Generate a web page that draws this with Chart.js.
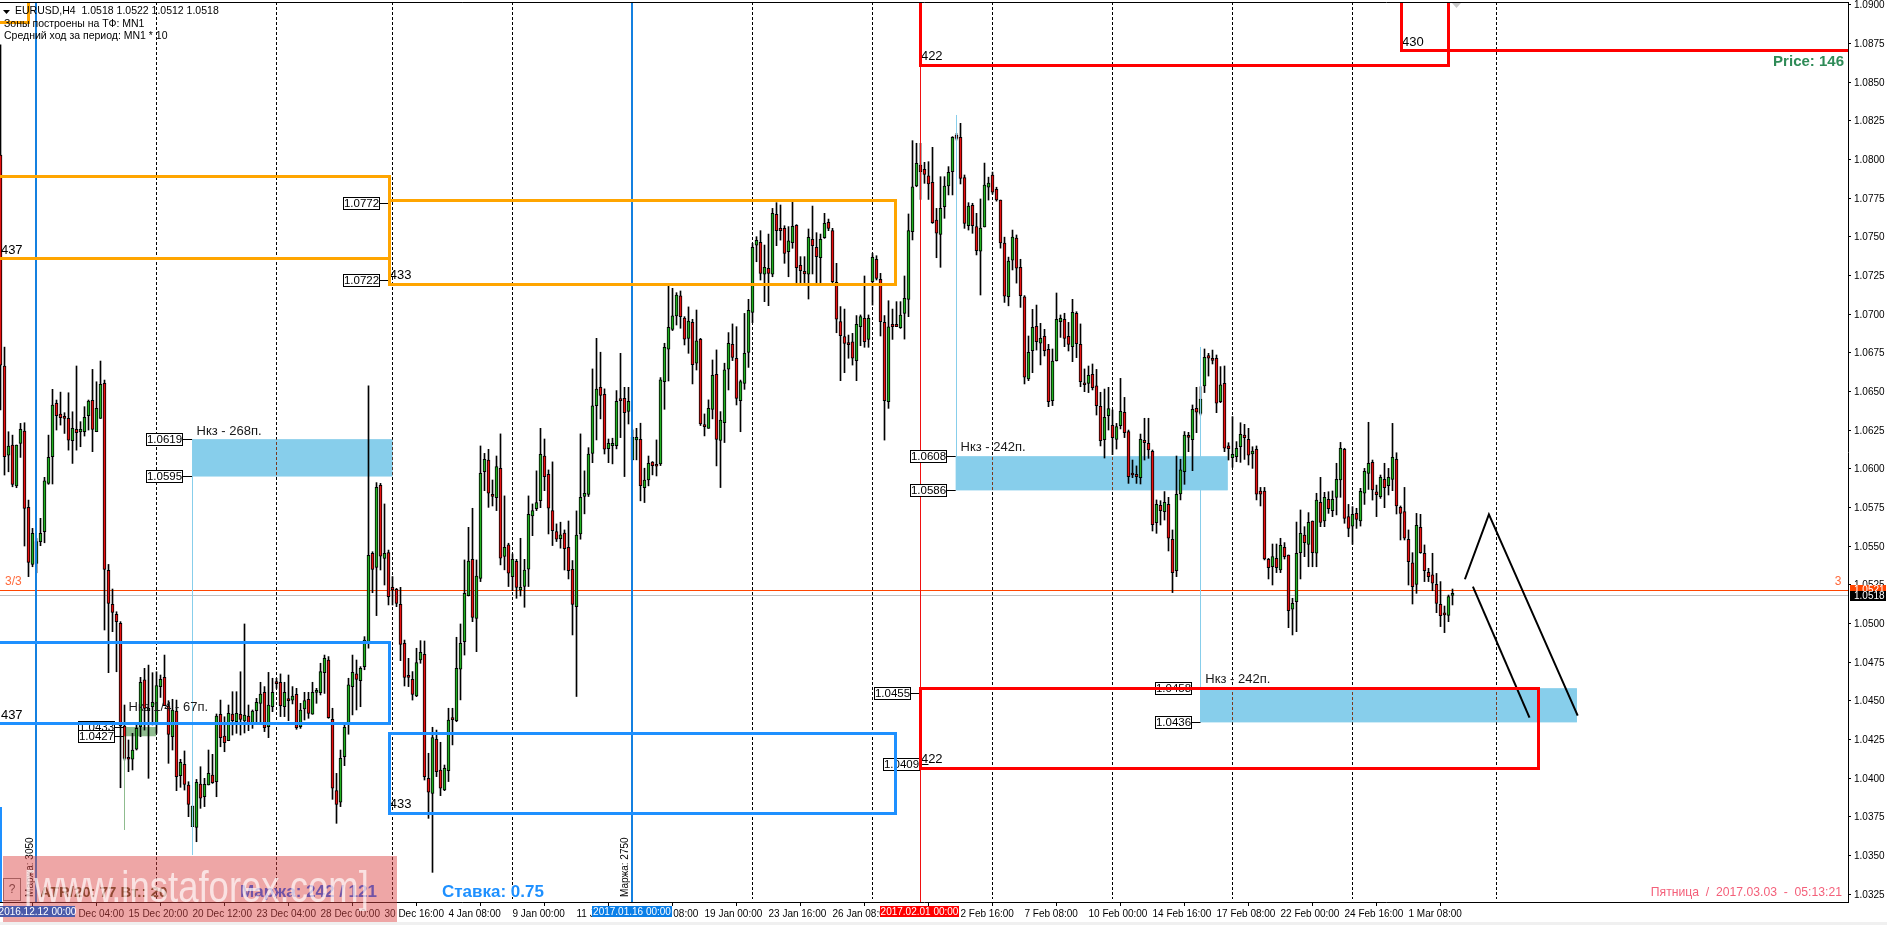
<!DOCTYPE html>
<html>
<head>
<meta charset="utf-8">
<title>EURUSD,H4</title>
<script src="https://cdn.jsdelivr.net/npm/chart.js@4"></script>
<style>
  html, body { margin: 0; padding: 0; background: #fff; overflow: hidden; }
  canvas { display: block; }
</style>
</head>
<body>
<canvas id="grafico" width="1887" height="925"></canvas>
<script>
// ======= CANDLES (EURUSD H4, one value per bar) =======
const opens = [
  1.08028,1.06664,1.06088,1.06153,1.05888,1.06164,1.06243,1.05750,1.05381,1.05388,
  1.05528,1.05592,1.05905,1.06077,1.06422,1.06353,1.06332,1.06325,1.06181,1.06254,
  1.06237,1.06239,1.06342,1.06442,1.06239,1.06325,1.06552,1.05343,1.05123,1.05058,
  1.05000,1.04336,1.04127,1.04121,1.04187,1.04332,1.04634,1.04435,1.04461,1.04353,
  1.04590,1.04651,1.04465,1.04267,1.04433,1.04015,1.04088,1.03955,1.03685,1.03681,
  1.03961,1.03879,1.03955,1.04019,1.03976,1.04412,1.04271,1.04241,1.04414,1.04364,
  1.04412,1.04369,1.04401,1.04358,1.04436,1.04483,1.04554,1.04332,1.04461,1.04612,
  1.04619,1.04461,1.04509,1.04504,1.04541,1.04332,1.04446,1.04509,1.04412,1.04554,
  1.04552,1.04681,1.04763,1.04380,1.03918,1.03843,1.04138,1.04354,1.04591,1.04673,
  1.04630,1.04720,1.04882,1.05453,1.05362,1.05892,1.05420,1.05457,1.05233,1.05220,
  1.05123,1.04871,1.04664,1.04638,1.04530,1.04763,1.04800,1.03998,1.03901,1.04250,
  1.04052,1.03923,1.04048,1.04382,1.04371,1.04703,1.04882,1.05179,1.05414,1.05032,
  1.05291,1.05981,1.06056,1.05835,1.05813,1.06003,1.05432,1.05507,1.05302,1.05401,
  1.05216,1.05238,1.05350,1.05695,1.05742,1.05794,1.06082,1.05964,1.05729,1.05593,
  1.05548,1.05583,1.05492,1.05350,1.05108,1.05578,1.05820,1.05833,1.06098,1.06408,
  1.06526,1.06481,1.06130,1.06149,1.06149,1.06443,1.06455,1.06371,1.06057,1.06186,
  1.06190,1.05878,1.05927,1.06042,1.06020,1.06031,1.06563,1.06772,1.06901,1.06988,
  1.07117,1.06973,1.06843,1.06947,1.06682,1.06837,1.06281,1.06261,1.06384,1.06610,
  1.06182,1.06298,1.06643,1.06804,1.06714,1.06440,1.06552,1.06752,1.07011,1.07446,
  1.07463,1.07257,1.07295,1.07257,1.07644,1.07554,1.07554,1.07403,1.07461,1.07573,
  1.07315,1.07276,1.07257,1.07483,1.07431,1.07364,1.07494,1.07593,1.07539,1.07205,
  1.06951,1.06854,1.06810,1.06821,1.06698,1.06918,1.06972,1.06836,1.07209,1.07354,
  1.07224,1.06946,1.06433,1.06933,1.06933,1.06912,1.07004,1.07095,1.07532,1.07828,
  1.07963,1.07935,1.07894,1.07851,1.07608,1.07515,1.07694,1.07828,1.07920,1.08157,
  1.08142,1.07882,1.07571,1.07703,1.07565,1.07407,1.07563,1.07821,1.07898,1.07807,
  1.07737,1.07459,1.07112,1.07349,1.07491,1.07302,1.07112,1.06580,1.06763,1.06921,
  1.06811,1.06856,1.06772,1.06440,1.06699,1.06951,1.06966,1.06856,1.06789,1.07005,
  1.06804,1.06552,1.06552,1.06610,1.06535,1.06403,1.06188,1.06343,1.06280,1.06190,
  1.06278,1.06365,1.06240,1.05970,1.05964,1.05942,1.06184,1.06164,1.06112,1.05651,
  1.05763,1.05722,1.05770,1.05543,1.05341,1.05837,1.05981,1.06205,1.06188,1.06390,
  1.06357,1.06535,1.06731,1.06703,1.06714,1.06433,1.06552,1.06147,1.06071,1.06078,
  1.06142,1.06218,1.06190,1.06095,1.06125,1.05856,1.05856,1.05414,1.05366,1.05420,
  1.05345,1.05491,1.05442,1.05091,1.05140,1.05457,1.05571,1.05511,1.05662,1.05453,
  1.05782,1.05662,1.05802,1.05729,1.05815,1.05927,1.06125,1.05690,1.05629,1.05711,
  1.05662,1.05841,1.05970,1.06041,1.05851,1.05819,1.05931,1.05890,1.05931,1.06060,
  1.05750,1.05722,1.05543,1.05392,1.05252,1.05621,1.05453,1.05330,1.05313,1.05252,
  1.05123,1.05059,1.05052,1.05181
];
const highs = [
  1.08740,1.06786,1.06239,1.06217,1.06153,1.06293,1.06297,1.05797,1.05614,1.05549,
  1.05679,1.05944,1.06217,1.06513,1.06444,1.06495,1.06362,1.06491,1.06368,1.06664,
  1.06304,1.06401,1.06444,1.06642,1.06562,1.06696,1.06573,1.05381,1.05222,1.05075,
  1.05011,1.04472,1.04246,1.04289,1.04353,1.04651,1.04709,1.04730,1.04681,1.04687,
  1.04666,1.04795,1.04500,1.04509,1.04504,1.04121,1.04175,1.03976,1.03819,1.03991,
  1.04073,1.03998,1.04181,1.04153,1.04414,1.04504,1.04396,1.04472,1.04558,1.04558,
  1.04687,1.04996,1.04472,1.04440,1.04515,1.04619,1.04591,1.04683,1.04645,1.04645,
  1.04673,1.04619,1.04666,1.04591,1.04580,1.04483,1.04554,1.04554,1.04619,1.04580,
  1.04742,1.04795,1.04785,1.04451,1.04030,1.04181,1.04343,1.04645,1.04795,1.04763,
  1.04720,1.04914,1.06535,1.05463,1.05910,1.05905,1.05772,1.05474,1.05302,1.05226,
  1.05233,1.04892,1.04774,1.04688,1.04839,1.04888,1.04886,1.04160,1.04328,1.04310,
  1.04231,1.04084,1.04451,1.04451,1.04910,1.04996,1.05410,1.05621,1.05744,1.05410,
  1.06147,1.06099,1.06125,1.05927,1.06082,1.06225,1.05824,1.05518,1.05449,1.05414,
  1.05550,1.05414,1.05824,1.05772,1.05986,1.06261,1.06192,1.05992,1.06044,1.05643,
  1.05654,1.05604,1.05662,1.05406,1.05727,1.06225,1.05986,1.06136,1.06645,1.06843,
  1.06753,1.06516,1.06192,1.06197,1.06505,1.06746,1.06526,1.06526,1.06251,1.06261,
  1.06294,1.06003,1.06082,1.06046,1.06186,1.06589,1.06811,1.07182,1.07166,1.07138,
  1.07149,1.06983,1.07046,1.06966,1.07026,1.06843,1.06354,1.06445,1.06703,1.06768,
  1.06369,1.06682,1.06880,1.06936,1.06918,1.06573,1.07004,1.07095,1.07457,1.07500,
  1.07539,1.07446,1.07517,1.07683,1.07720,1.07705,1.07571,1.07565,1.07726,1.07578,
  1.07371,1.07371,1.07550,1.07698,1.07526,1.07517,1.07651,1.07614,1.07554,1.07328,
  1.07048,1.07032,1.06864,1.06875,1.06990,1.06994,1.07246,1.06994,1.07392,1.07377,
  1.07263,1.06990,1.07086,1.07032,1.07080,1.07080,1.07246,1.07647,1.08121,1.08104,
  1.08104,1.07981,1.07985,1.08078,1.07683,1.07888,1.07888,1.07953,1.08147,1.08168,
  1.08233,1.07899,1.07720,1.07716,1.07651,1.07744,1.07976,1.07885,1.07918,1.07820,
  1.07737,1.07497,1.07368,1.07543,1.07511,1.07354,1.07119,1.06858,1.07030,1.07058,
  1.06940,1.06901,1.06804,1.06774,1.07136,1.06994,1.07005,1.06946,1.07095,1.07015,
  1.06936,1.06645,1.06664,1.06677,1.06642,1.06494,1.06515,1.06526,1.06380,1.06293,
  1.06584,1.06461,1.06250,1.06056,1.06018,1.06224,1.06326,1.06326,1.06121,1.05798,
  1.05793,1.05852,1.05815,1.05604,1.06082,1.06061,1.06240,1.06235,1.06412,1.06526,
  1.06530,1.06774,1.06746,1.06767,1.06735,1.06660,1.06664,1.06168,1.06336,1.06175,
  1.06297,1.06287,1.06261,1.06142,1.06147,1.05879,1.05879,1.05420,1.05513,1.05513,
  1.05550,1.05522,1.05442,1.05162,1.05655,1.05733,1.05625,1.05716,1.05662,1.05841,
  1.05944,1.05847,1.05851,1.05856,1.06035,1.06170,1.06132,1.05769,1.05754,1.05744,
  1.05873,1.06002,1.06300,1.06056,1.05894,1.05959,1.06035,1.06002,1.06293,1.06103,
  1.05759,1.05879,1.05604,1.05457,1.05711,1.05705,1.05507,1.05356,1.05453,1.05323,
  1.05270,1.05112,1.05183,1.05222
];
const lows = [
  1.06380,1.05959,1.05980,1.05883,1.05877,1.06073,1.05500,1.05302,1.05366,1.05327,
  1.05502,1.05521,1.05899,1.05901,1.06250,1.06282,1.06228,1.06120,1.06034,1.06120,
  1.06142,1.06211,1.06250,1.06110,1.06239,1.06325,1.04957,1.04681,1.04946,1.04687,
  1.03937,1.04116,1.04041,1.04052,1.04181,1.04267,1.04310,1.03998,1.04343,1.04289,
  1.04521,1.04468,1.04095,1.04181,1.03918,1.03940,1.03922,1.03750,1.03685,1.03588,
  1.03804,1.03815,1.03955,1.03965,1.03879,1.04202,1.04170,1.04241,1.04278,1.04289,
  1.04278,1.04291,1.04306,1.04321,1.04358,1.04358,1.04300,1.04261,1.04429,1.04580,
  1.04397,1.04397,1.04371,1.04479,1.04315,1.04321,1.04375,1.04386,1.04412,1.04483,
  1.04537,1.04547,1.04386,1.03862,1.03707,1.03815,1.04080,1.04283,1.04408,1.04440,
  1.04461,1.04700,1.04839,1.05198,1.05050,1.05345,1.05248,1.05119,1.05119,1.05108,
  1.04759,1.04595,1.04591,1.04504,1.04526,1.04742,1.03987,1.03739,1.03390,1.04009,
  1.03886,1.03918,1.03977,1.04214,1.04364,1.04505,1.04795,1.05177,1.05011,1.04817,
  1.05270,1.05858,1.05750,1.05759,1.05729,1.05378,1.05346,1.05238,1.05212,1.05162,
  1.05177,1.05104,1.05238,1.05567,1.05729,1.05748,1.05858,1.05578,1.05503,1.05529,
  1.05486,1.05345,1.05287,1.04925,1.04527,1.05544,1.05708,1.05820,1.06039,1.06186,
  1.06322,1.06095,1.06039,1.06031,1.06128,1.06201,1.05949,1.06289,1.06057,1.06057,
  1.05792,1.05781,1.05889,1.05960,1.05953,1.06020,1.06384,1.06567,1.06893,1.06929,
  1.06908,1.06800,1.06746,1.06548,1.06638,1.06279,1.06212,1.06261,1.06322,1.06018,
  1.05878,1.06169,1.06509,1.06699,1.06412,1.06239,1.06513,1.06655,1.06944,1.07338,
  1.07220,1.07080,1.07054,1.07241,1.07442,1.07478,1.07328,1.07241,1.07425,1.07203,
  1.07203,1.07203,1.07097,1.07259,1.07203,1.07203,1.07489,1.07539,1.07198,1.06879,
  1.06569,1.06621,1.06714,1.06670,1.06569,1.06795,1.06785,1.06785,1.07058,1.07220,
  1.06858,1.06185,1.06390,1.06836,1.06918,1.06907,1.06838,1.06983,1.07479,1.07823,
  1.07741,1.07845,1.07741,1.07586,1.07364,1.07302,1.07619,1.07770,1.07770,1.08125,
  1.07841,1.07554,1.07543,1.07522,1.07382,1.07123,1.07563,1.07737,1.07775,1.07730,
  1.07426,1.07075,1.07053,1.07285,1.07200,1.07043,1.06548,1.06569,1.06621,1.06767,
  1.06671,1.06729,1.06401,1.06408,1.06696,1.06849,1.06789,1.06761,1.06692,1.06718,
  1.06530,1.06498,1.06492,1.06509,1.06347,1.06147,1.06069,1.06250,1.06091,1.06127,
  1.06257,1.06201,1.05905,1.05942,1.05905,1.05901,1.06056,1.06067,1.05597,1.05582,
  1.05636,1.05668,1.05468,1.05199,1.05302,1.05798,1.05899,1.06110,1.05987,1.06233,
  1.06347,1.06492,1.06599,1.06677,1.06362,1.06427,1.06110,1.06056,1.06009,1.06045,
  1.06041,1.06060,1.06024,1.06002,1.05798,1.05759,1.05410,1.05287,1.05248,1.05328,
  1.05328,1.05416,1.04972,1.04925,1.04946,1.05287,1.05431,1.05366,1.05366,1.05366,
  1.05625,1.05625,1.05711,1.05690,1.05701,1.05815,1.05647,1.05560,1.05511,1.05614,
  1.05629,1.05769,1.05866,1.05797,1.05690,1.05808,1.05748,1.05830,1.05858,1.05707,
  1.05539,1.05539,1.05248,1.05125,1.05194,1.05453,1.05270,1.05270,1.05211,1.05069,
  1.04979,1.04940,1.05011,1.05119
];
const closes = [
  1.06670,1.06077,1.06146,1.05899,1.06153,1.06254,1.05743,1.05394,1.05582,1.05528,
  1.05582,1.05922,1.06073,1.06411,1.06342,1.06330,1.06325,1.06185,1.06261,1.06233,
  1.06254,1.06332,1.06437,1.06254,1.06390,1.06545,1.05349,1.05129,1.05071,1.05011,
  1.04336,1.04127,1.04121,1.04181,1.04321,1.04618,1.04450,1.04450,1.04489,1.04597,
  1.04638,1.04468,1.04282,1.04440,1.04009,1.04101,1.03959,1.03830,1.03819,1.03972,
  1.03869,1.03959,1.04030,1.03970,1.04401,1.04261,1.04228,1.04418,1.04371,1.04418,
  1.04379,1.04407,1.04358,1.04433,1.04489,1.04543,1.04326,1.04472,1.04554,1.04610,
  1.04468,1.04554,1.04500,1.04530,1.04326,1.04440,1.04500,1.04418,1.04554,1.04558,
  1.04688,1.04774,1.04390,1.03934,1.03830,1.04127,1.04328,1.04602,1.04683,1.04638,
  1.04709,1.04892,1.05440,1.05349,1.05879,1.05435,1.05453,1.05173,1.05216,1.05129,
  1.04864,1.04651,1.04651,1.04541,1.04746,1.04813,1.04009,1.03908,1.04261,1.04041,
  1.03934,1.04063,1.04375,1.04378,1.04709,1.04871,1.05194,1.05403,1.05039,1.05306,
  1.05970,1.06060,1.05841,1.05820,1.06014,1.05421,1.05492,1.05324,1.05414,1.05233,
  1.05233,1.05345,1.05705,1.05729,1.05781,1.06093,1.05949,1.05744,1.05600,1.05544,
  1.05572,1.05483,1.05341,1.05123,1.05570,1.05815,1.05841,1.06095,1.06406,1.06514,
  1.06473,1.06126,1.06164,1.06164,1.06436,1.06440,1.06363,1.06436,1.06203,1.06203,
  1.05891,1.05927,1.06035,1.06020,1.06016,1.06574,1.06785,1.06914,1.06988,1.07123,
  1.06983,1.06837,1.06955,1.06673,1.06826,1.06289,1.06272,1.06391,1.06604,1.06190,
  1.06315,1.06639,1.06811,1.06720,1.06455,1.06563,1.06746,1.07024,1.07431,1.07476,
  1.07263,1.07302,1.07263,1.07651,1.07539,1.07539,1.07392,1.07474,1.07567,1.07300,
  1.07280,1.07259,1.07496,1.07442,1.07371,1.07483,1.07586,1.07554,1.07209,1.06966,
  1.06860,1.06810,1.06802,1.06714,1.06933,1.06983,1.06821,1.06972,1.07367,1.07231,
  1.06951,1.06440,1.06918,1.06918,1.06918,1.06994,1.07101,1.07539,1.07823,1.07974,
  1.07920,1.07903,1.07841,1.07591,1.07522,1.07683,1.07828,1.07916,1.08142,1.08136,
  1.07877,1.07586,1.07698,1.07571,1.07410,1.07556,1.07834,1.07847,1.07788,1.07737,
  1.07459,1.07116,1.07343,1.07498,1.07297,1.07119,1.06591,1.06752,1.06914,1.06821,
  1.06843,1.06763,1.06433,1.06696,1.06966,1.06972,1.06843,1.06804,1.07011,1.06808,
  1.06563,1.06543,1.06604,1.06524,1.06408,1.06181,1.06332,1.06388,1.06201,1.06272,
  1.06371,1.06233,1.05949,1.05959,1.05949,1.06190,1.06168,1.06121,1.05638,1.05770,
  1.05729,1.05783,1.05550,1.05328,1.05834,1.05992,1.06218,1.06202,1.06384,1.06365,
  1.06450,1.06720,1.06714,1.06700,1.06423,1.06543,1.06132,1.06129,1.06093,1.06132,
  1.06222,1.06200,1.06088,1.06114,1.05836,1.05836,1.05416,1.05360,1.05431,1.05360,
  1.05504,1.05431,1.05082,1.05129,1.05453,1.05582,1.05522,1.05653,1.05457,1.05797,
  1.05653,1.05815,1.05741,1.05802,1.05931,1.06132,1.05679,1.05614,1.05705,1.05672,
  1.05854,1.05983,1.06035,1.05862,1.05832,1.05944,1.05877,1.05944,1.06073,1.05759,
  1.05711,1.05550,1.05399,1.05237,1.05634,1.05457,1.05341,1.05302,1.05259,1.05129,
  1.05050,1.05055,1.05173,1.05181
];

// ======= AXES =======
const yTicks = [1.0325,1.035,1.0375,1.04,1.0425,1.045,1.0475,1.05,1.0525,1.055,1.0575,1.06,
  1.0625,1.065,1.0675,1.07,1.0725,1.075,1.0775,1.08,1.0825,1.085,1.0875,1.09];
const xTickBars = [0,16,32,48,64,80,96,112,128,144,160,176,192,208,224,240,256,272,288,304,320,336,352];
const xTickLabels = ["12 Dec 2016","13 Dec 04:00","15 Dec 20:00","20 Dec 12:00","23 Dec 04:00","28 Dec 00:00",
  "30 Dec 16:00","4 Jan 08:00","9 Jan 00:00","11 Jan 16:00","16 Jan 08:00","19 Jan 00:00","23 Jan 16:00",
  "26 Jan 08:00","31 Jan 00:00","2 Feb 16:00","7 Feb 08:00","10 Feb 00:00","14 Feb 16:00","17 Feb 08:00",
  "22 Feb 00:00","24 Feb 16:00","1 Mar 08:00"];
const separatorBars = [39,69,98,128,158,188,218,248,278,308,338,374];

// ======= ZONES AND BOXES: [first bar, last bar, upper price, lower price] =======
const skyZones = [[47.9,98,1.0619,1.0595],[238.8,306.8,1.0608,1.0586],[300,394.1,1.0458,1.0436]];
const greenZones = [[30.9,38.9,1.0433,1.0427]];
const orangeBoxes = [[-5,97.25,1.07892,1.07356],[97.25,223.75,1.07735,1.07192],[-5,7,1.0915,1.08888]];
const blueBoxes = [[-5,97.25,1.04875,1.04353],[97.25,223.75,1.04289,1.03771],[-5,0,1.03806,1.03]];
const redBoxes = [[230,362,1.0915,1.08608],[350.25,470,1.0915,1.08705],[230,384.5,1.0458,1.04063]];

// thin lines hanging from the zones: [bar, price from, price to]
const skyStems = [[48,1.0595,1.03502],[239,1.0608,1.08287],[300,1.0436,1.06787]];
const greenStems = [[31,1.0427,1.03664]];

// boxed prices: value and the bar the leader line runs to
const tagPrices = [1.0619,1.0595,1.0772,1.0722,1.0608,1.0586,1.0455,1.0409,1.0458,1.0436,1.0433,1.0427];
const tagBars = [47.9,47.9,97,97,238.8,238.8,229.9,232,300,300,30.9,30.9];

// box sizes written next to the boxes
const sizeTexts = ["437","433","437","433","422","430","422"];
const sizeBars = [0.1,97.3,0.1,97.3,230.1,350.4,230.1];
const sizePrices = [1.0742,1.07259,1.04414,1.03838,1.08675,1.08765,1.04129];

const zoneTexts = ["Нкз - 268п.","Нкз 1/4 - 67п.","Нкз - 242п.","Нкз - 242п."];
const zoneTextBars = [49,32,240,301.2];
const zoneTextPrices = [1.06247,1.04463,1.06147,1.04646];

// forecast lines
const trendABars = [366.1,372.1,394.3];
const trendAPrices = [1.05285,1.05705,1.04403];
const trendBBars = [368.1,382.25];
const trendBPrices = [1.05237,1.0439];

const levelUpper = 1.05214;
const levelLast = 1.0518;

// ======= HELPERS =======
const fuente = "'Liberation Sans', Arial, sans-serif";
const barras = opens.map((_, i) => i);
const snap = v => Math.floor(v) + 0.5;

function texto(ctx, str, x, y, font, color, align) {
  ctx.font = font;
  ctx.fillStyle = color;
  ctx.textAlign = align || "left";
  ctx.textBaseline = "middle";
  ctx.fillText(str, x, y + 1);
}

function lineaV(ctx, x, y0, y1, color, width) {
  ctx.strokeStyle = color;
  ctx.lineWidth = width;
  ctx.beginPath();
  ctx.moveTo(x, y0);
  ctx.lineTo(x, y1);
  ctx.stroke();
}

function lineaH(ctx, x0, x1, y, color, width) {
  ctx.strokeStyle = color;
  ctx.lineWidth = width;
  ctx.beginPath();
  ctx.moveTo(x0, y);
  ctx.lineTo(x1, y);
  ctx.stroke();
}

// ======= PLUGIN: everything the terminal draws around the candles =======
const dibujos = {
  id: "dibujos",
  beforeDraw(chart) {
    const ctx = chart.ctx;
    ctx.save();
    ctx.fillStyle = "#ffffff";
    ctx.fillRect(0, 0, 1887, 925);
    ctx.fillStyle = "#f0f0f0";
    ctx.fillRect(0, 922, 1887, 3);
    ctx.restore();
  },
  beforeDatasetsDraw(chart) {
    const { ctx, chartArea: a, scales: { x, y } } = chart;
    ctx.save();
    ctx.beginPath();
    ctx.rect(a.left, a.top, a.right - a.left, a.bottom - a.top);
    ctx.clip();

    const zonas = [[skyZones, "#87ceeb"], [greenZones, "#8fbc8f"]];
    zonas.forEach(([lista, color]) => {
      ctx.fillStyle = color;
      lista.forEach(z => {
        const x0 = x.getPixelForValue(z[0]), x1 = x.getPixelForValue(z[1]);
        const y0 = y.getPixelForValue(z[2]), y1 = y.getPixelForValue(z[3]);
        ctx.fillRect(x0, y0, x1 - x0, y1 - y0);
      });
    });

    // separators turn dark brown where they cross a zone
    ctx.setLineDash([3, 2]);
    separatorBars.forEach(b => lineaV(ctx, x.getPixelForValue(b), a.top, 899, "#000000", 1));
    skyZones.forEach(z => {
      ctx.save();
      const x0 = x.getPixelForValue(z[0]), x1 = x.getPixelForValue(z[1]);
      const y0 = y.getPixelForValue(z[2]), y1 = y.getPixelForValue(z[3]);
      ctx.beginPath();
      ctx.rect(x0, y0, x1 - x0, y1 - y0);
      ctx.clip();
      ctx.fillStyle = "#87ceeb";
      ctx.fillRect(x0, y0, x1 - x0, y1 - y0);
      separatorBars.forEach(b => lineaV(ctx, x.getPixelForValue(b), a.top, 899, "#7a3a20", 1));
      ctx.restore();
    });
    ctx.setLineDash([]);

    lineaH(ctx, a.left, a.right, snap(y.getPixelForValue(levelLast)), "#c0c0c0", 1);
    lineaH(ctx, a.left, a.right, snap(y.getPixelForValue(levelUpper)), "#ff4500", 1);
    ctx.restore();
  },
  afterDatasetsDraw(chart) {
    const { ctx, chartArea: a, scales: { x, y } } = chart;
    ctx.save();
    ctx.beginPath();
    ctx.rect(a.left, a.top, a.right - a.left, a.bottom - a.top);
    ctx.clip();

    // stems and marked bars
    skyStems.forEach(s => {
      lineaV(ctx, x.getPixelForValue(s[0]), y.getPixelForValue(s[1]), y.getPixelForValue(s[2]), "#87ceeb", 1);
    });
    greenStems.forEach(s => {
      lineaV(ctx, x.getPixelForValue(s[0]), y.getPixelForValue(s[1]), y.getPixelForValue(s[2]), "#8fbc8f", 1);
    });
    lineaV(ctx, x.getPixelForValue(230), a.top, a.bottom, "#f01010", 1);
    lineaV(ctx, x.getPixelForValue(8.875), a.top, a.bottom, "#1480e0", 2);
    lineaV(ctx, x.getPixelForValue(157.875), a.top, a.bottom, "#1480e0", 2);

    // boxed prices
    tagPrices.forEach((p, i) => {
      const py = Math.round(y.getPixelForValue(p));
      const ax = x.getPixelForValue(tagBars[i]);
      const right = Math.round(ax) - 10;
      lineaH(ctx, right, ax, py + 0.5, "#000000", 1);
      ctx.fillStyle = "#ffffff";
      ctx.fillRect(right - 36, py - 5, 36, 11);
      ctx.strokeStyle = "#000000";
      ctx.lineWidth = 1;
      ctx.strokeRect(right - 35.5, py - 5.5, 36, 12);
      texto(ctx, p.toFixed(4), right - 17.5, py, "11.5px " + fuente, "#000000", "center");
    });

    zoneTexts.forEach((t, i) => {
      texto(ctx, t, x.getPixelForValue(zoneTextBars[i]), y.getPixelForValue(zoneTextPrices[i]), "13px " + fuente, "#1a1a1a");
    });
    sizeTexts.forEach((t, i) => {
      texto(ctx, t, x.getPixelForValue(sizeBars[i]), y.getPixelForValue(sizePrices[i]), "13px " + fuente, "#000000");
    });

    // open frames
    const marcos = [[orangeBoxes, "#ffa500"], [blueBoxes, "#1e90ff"], [redBoxes, "#ff0000"]];
    marcos.forEach(([lista, color]) => {
      ctx.strokeStyle = color;
      ctx.lineWidth = 3;
      ctx.lineJoin = "miter";
      lista.forEach(b => {
        const x0 = snap(x.getPixelForValue(b[0])), x1 = snap(x.getPixelForValue(b[1]));
        const y0 = snap(y.getPixelForValue(b[2])), y1 = snap(y.getPixelForValue(b[3]));
        ctx.strokeRect(x0, y0, x1 - x0, y1 - y0);
      });
    });

    texto(ctx, "3/3", 5, 581, "12px " + fuente, "#ff6a3c");
    texto(ctx, "3", 1838, 581, "12px " + fuente, "#ff6a3c", "center");
    texto(ctx, "Price: 146", 1844, 61, "bold 15px " + fuente, "#2e8b57", "right");
    texto(ctx, "Пятница  /  2017.03.03  -  05:13:21", 1842, 892, "12.2px " + fuente, "#f4607a", "right");
    texto(ctx, "Ставка: 0.75", 442, 891, "bold 17px " + fuente, "#1e90ff");
    ctx.restore();

    // shift marker
    ctx.fillStyle = "#c8c8c8";
    ctx.beginPath();
    ctx.moveTo(1452, 3);
    ctx.lineTo(1461, 3);
    ctx.lineTo(1456.5, 8);
    ctx.closePath();
    ctx.fill();
  },
  afterDraw(chart) {
    const { ctx, chartArea: a, scales: { y } } = chart;
    ctx.save();
    lineaH(ctx, 0, a.right + 0.5, a.top + 0.5, "#000000", 1);

    // price axis labels, one pixel lower than the library centres them
    yTicks.forEach(v => {
      texto(ctx, v.toFixed(4), 1854, y.getPixelForValue(v), "10px " + fuente, "#000000");
    });

    // header
    ctx.fillStyle = "#000000";
    ctx.beginPath();
    ctx.moveTo(3, 10);
    ctx.lineTo(10, 10);
    ctx.lineTo(6.5, 14);
    ctx.closePath();
    ctx.fill();
    texto(ctx, "EURUSD,H4  1.0518 1.0522 1.0512 1.0518", 15, 10, "10.5px " + fuente, "#000000");
    texto(ctx, "Зоны построены на ТФ: MN1", 4, 23, "10.5px " + fuente, "#000000");
    texto(ctx, "Средний ход за период: MN1 * 10", 4, 35, "10.5px " + fuente, "#000000");

    // price tags on the axis
    ctx.fillStyle = "#ff4500";
    ctx.fillRect(1850, 585, 36, 11);
    texto(ctx, "1.0521", 1854, 589, "10px " + fuente, "#ffffff");
    ctx.fillStyle = "#000000";
    ctx.fillRect(1850, 591, 36, 10);
    texto(ctx, "1.0518", 1854, 595, "10px " + fuente, "#ffffff");

    // vertical notes
    [[30, "Маржа: 3050"], [625, "Маржа: 2750"]].forEach(([px, t]) => {
      ctx.save();
      ctx.translate(px, 897);
      ctx.rotate(-Math.PI / 2);
      texto(ctx, t, 0, -1, "10px " + fuente, "#000000");
      ctx.restore();
    });

    // marked times on the axis
    [[592, 80, "#0a7fe8", "2017.01.16 00:00", 632], [880, 79, "#ff0000", "2017.02.01 00:00", 919.5]].forEach(([x0, w, color, t, cx]) => {
      ctx.fillStyle = color;
      ctx.fillRect(x0, 906, w, 11);
      texto(ctx, t, cx, 911, "10px " + fuente, "#ffffff", "center");
    });

    // panel texts
    ctx.strokeStyle = "#777777";
    ctx.lineWidth = 1;
    ctx.strokeRect(3.5, 878.5, 17, 22);
    texto(ctx, "?", 12, 889, "12px " + fuente, "#444444", "center");
    texto(ctx, "ATR/20: 77 Вт.: 20", 40, 892, "bold 15px " + fuente, "#4a4a20");
    texto(ctx, "Маржа: 242 / 121", 240, 891, "bold 17px " + fuente, "#1060ff");

    // watermark
    ctx.fillStyle = "rgba(220,70,70,0.48)";
    ctx.fillRect(3, 856, 394, 66);
    ctx.save();
    ctx.translate(24, 890);
    ctx.scale(1, 1.2);
    texto(ctx, "[www.instaforex.com]", 0, -1, "36.5px " + fuente, "rgba(255,255,255,0.68)");
    ctx.restore();

    // this marker sits above the watermark
    ctx.fillStyle = "#4a5aaa";
    ctx.fillRect(0, 906, 75, 11);
    texto(ctx, "2016.12.12 00:00", 37.5, 911, "10px " + fuente, "#ffffff", "center");
    ctx.restore();
  }
};

// ======= CHART =======
new Chart(document.getElementById("grafico").getContext("2d"), {
  type: "bar",
  data: {
    datasets: [
      {
        type: "line",
        data: trendABars.map((b, i) => ({ x: b, y: trendAPrices[i] })),
        borderColor: "#000000",
        borderWidth: 2,
        pointRadius: 0,
        order: 0
      },
      {
        type: "line",
        data: trendBBars.map((b, i) => ({ x: b, y: trendBPrices[i] })),
        borderColor: "#000000",
        borderWidth: 2,
        pointRadius: 0,
        order: 0
      },
      {
        data: barras.map(i => ({ x: i, y: [opens[i], closes[i]] })),
        backgroundColor: barras.map(i => closes[i] >= opens[i] ? "#20b020" : "#e81010"),
        borderColor: "#000000",
        borderWidth: 1,
        borderSkipped: false,
        barThickness: 3,
        minBarLength: 2,
        grouped: false,
        order: 1
      },
      {
        data: barras.map(i => ({ x: i, y: [lows[i], highs[i]] })),
        backgroundColor: "#000000",
        borderWidth: 0,
        barThickness: 1,
        grouped: false,
        order: 2
      }
    ]
  },
  options: {
    responsive: false,
    animation: false,
    devicePixelRatio: 1,
    events: [],
    layout: { padding: { left: 0, right: 0, top: 2, bottom: 0 } },
    plugins: { legend: { display: false }, tooltip: { enabled: false } },
    scales: {
      x: {
        type: "linear",
        min: -0.125,
        max: 461.875,
        offset: false,
        afterBuildTicks: s => { s.ticks = xTickBars.map(v => ({ value: v })); },
        afterFit: s => { s.paddingLeft = 0; s.paddingRight = 0; s.height = 23; },
        border: { color: "#000000" },
        grid: { drawOnChartArea: false, tickLength: 4, color: "#000000" },
        ticks: {
          autoSkip: false,
          maxRotation: 0,
          align: "start",
          padding: 2,
          color: "#000000",
          font: { family: fuente, size: 10 },
          callback: (v, i) => xTickLabels[i]
        }
      },
      y: {
        position: "right",
        min: 1.031983,
        max: 1.090175,
        afterBuildTicks: s => { s.ticks = yTicks.map(v => ({ value: v })); },
        afterFit: s => { s.paddingTop = 0; s.paddingBottom = 0; s.width = 39; },
        border: { color: "#000000" },
        grid: { drawOnChartArea: false, tickLength: 3, color: "#000000" },
        ticks: { display: false }
      }
    }
  },
  plugins: [dibujos]
});
</script>
</body>
</html>
